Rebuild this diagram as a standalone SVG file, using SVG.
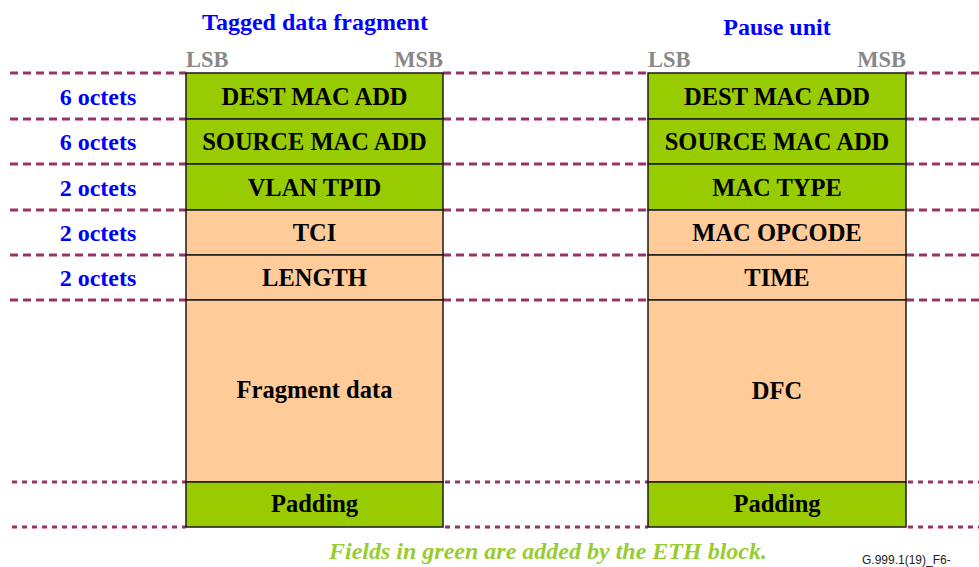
<svg xmlns="http://www.w3.org/2000/svg" width="979" height="567" viewBox="0 0 979 567">
<style>
.g{fill:#99cc00;stroke:#1a1a1a;stroke-width:1.5}
.p{fill:#ffcc99;stroke:#1a1a1a;stroke-width:1.5}
.t{font-family:"Liberation Serif",serif;font-weight:bold;font-size:24.5px;fill:#000;text-anchor:middle}
.o{font-family:"Liberation Serif",serif;font-weight:bold;font-size:24px;fill:#0000ff;text-anchor:middle}
.h{font-family:"Liberation Serif",serif;font-weight:bold;font-size:24px;fill:#0000ff;text-anchor:middle}
.b{font-family:"Liberation Serif",serif;font-weight:bold;font-size:22.5px;fill:#888888}
.d{stroke:#993366;stroke-width:3;stroke-dasharray:8 5;fill:none}
.d2{stroke:#993366;stroke-width:3;stroke-dasharray:5 5;fill:none}
</style>
<g id="connectors">
<path class="d" d="M10 73H186M443 73H648M906 73H979"/>
<path class="d" d="M10 119H186M443 119H648M906 119H979"/>
<path class="d" d="M10 164H186M443 164H648M906 164H979"/>
<path class="d" d="M10 210H186M443 210H648M906 210H979"/>
<path class="d" d="M10 255H186M443 255H648M906 255H979"/>
<path class="d" d="M10 300H186M443 300H648M906 300H979"/>
<path class="d2" d="M12 482H186M445 482H648M908 482H979"/>
<path class="d2" d="M12 527H186M445 527H648M908 527H979"/>
</g>
<g id="title-left"><text class="h" x="315" y="30">Tagged data fragment</text></g>
<g id="title-right"><text class="h" x="777" y="35">Pause unit</text></g>
<g id="lsbmsb">
<text class="b" x="186" y="67">LSB</text>
<text class="b" x="443" y="67" text-anchor="end">MSB</text>
<text class="b" x="648" y="67">LSB</text>
<text class="b" x="906" y="67" text-anchor="end">MSB</text>
</g>
<g id="octets">
<text class="o" x="98" y="105">6 octets</text>
<text class="o" x="98" y="150">6 octets</text>
<text class="o" x="98" y="196">2 octets</text>
<text class="o" x="98" y="241">2 octets</text>
<text class="o" x="98" y="286">2 octets</text>
</g>
<g id="left-dest"><rect class="g" x="186" y="73" width="257" height="46"/><text class="t" x="314.5" y="105">DEST MAC ADD</text></g>
<g id="left-src"><rect class="g" x="186" y="119" width="257" height="45"/><text class="t" x="314.5" y="150">SOURCE MAC ADD</text></g>
<g id="left-vlan"><rect class="g" x="186" y="164" width="257" height="46"/><text class="t" x="314.5" y="196">VLAN TPID</text></g>
<g id="left-tci"><rect class="p" x="186" y="210" width="257" height="45"/><text class="t" x="314.5" y="241">TCI</text></g>
<g id="left-length"><rect class="p" x="186" y="255" width="257" height="45"/><text class="t" x="314.5" y="286">LENGTH</text></g>
<g id="left-frag"><rect class="p" x="186" y="300" width="257" height="182"/><text class="t" x="314.5" y="398">Fragment data</text></g>
<g id="left-pad"><rect class="g" x="186" y="482" width="257" height="45"/><text class="t" x="314.5" y="512">Padding</text></g>
<g id="right-dest"><rect class="g" x="648" y="73" width="258" height="46"/><text class="t" x="777" y="105">DEST MAC ADD</text></g>
<g id="right-src"><rect class="g" x="648" y="119" width="258" height="45"/><text class="t" x="777" y="150">SOURCE MAC ADD</text></g>
<g id="right-mactype"><rect class="g" x="648" y="164" width="258" height="46"/><text class="t" x="777" y="196">MAC TYPE</text></g>
<g id="right-opcode"><rect class="p" x="648" y="210" width="258" height="45"/><text class="t" x="777" y="241">MAC OPCODE</text></g>
<g id="right-time"><rect class="p" x="648" y="255" width="258" height="45"/><text class="t" x="777" y="286">TIME</text></g>
<g id="right-dfc"><rect class="p" x="648" y="300" width="258" height="182"/><text class="t" x="777" y="399">DFC</text></g>
<g id="right-pad"><rect class="g" x="648" y="482" width="258" height="45"/><text class="t" x="777" y="512">Padding</text></g>
<g id="footer">
<text x="548" y="559" font-family="'Liberation Serif',serif" font-weight="bold" font-style="italic" font-size="24" fill="#99cc33" text-anchor="middle">Fields in green are added by the ETH block.</text>
<text x="862" y="564" font-family="'Liberation Sans',sans-serif" font-size="12" fill="#222">G.999.1(19)_F6-</text>
</g>
</svg>
